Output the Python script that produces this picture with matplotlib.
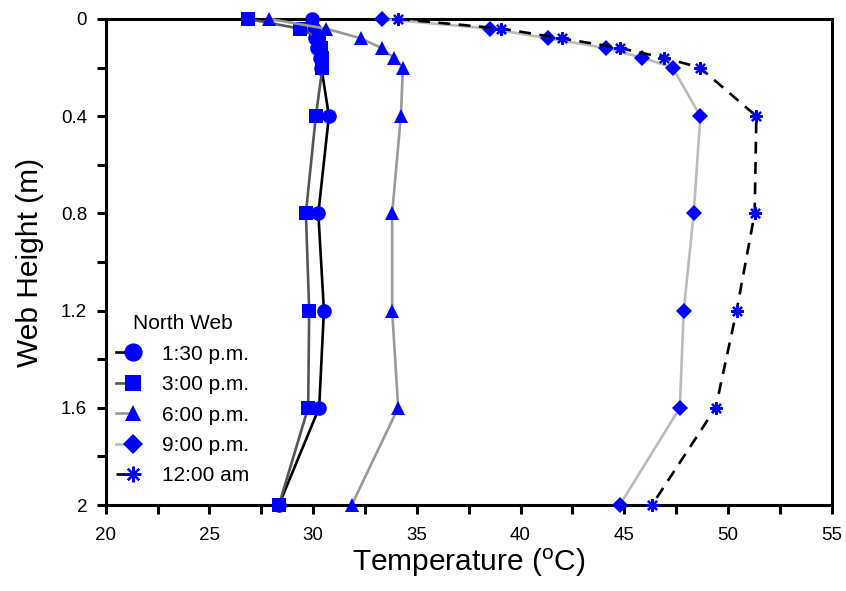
import matplotlib
matplotlib.use("Agg")
import matplotlib.pyplot as plt
from matplotlib.legend_handler import HandlerLine2D

plt.rcParams['font.family'] = ['Liberation Sans', 'DejaVu Sans']
plt.rcParams['mathtext.fontset'] = 'custom'
plt.rcParams['mathtext.rm'] = 'Liberation Sans'

# Measurement heights along the web (m)
heights = [0.0, 0.04, 0.08, 0.12, 0.16, 0.2, 0.4, 0.8, 1.2, 1.6, 2.0]

# North web temperature profiles (deg C)
t_0130pm = [29.93, 30.05, 30.1, 30.2, 30.35, 30.4, 30.76, 30.25, 30.52, 30.29, 28.35]
t_0300pm = [26.84, 29.36, 30.3, 30.4, 30.45, 30.45, 30.13, 29.65, 29.81, 29.76, 28.35]
t_0600pm = [27.87, 30.62, 32.30, 33.30, 33.89, 34.33, 34.23, 33.81, 33.81, 34.10, 31.86]
t_0900pm = [33.30, 38.52, 41.33, 44.10, 45.88, 47.33, 48.67, 48.35, 47.87, 47.68, 44.79]
t_1200am = [34.09, 39.08, 41.98, 44.79, 46.92, 48.64, 51.37, 51.29, 50.42, 49.41, 46.34]

series_labels = ['1:30 p.m.', '3:00 p.m.', '6:00 p.m.', '9:00 p.m.', '12:00 am']

x_ticks = [20, 25, 30, 35, 40, 45, 50, 55]
y_ticks = [0, 0.4, 0.8, 1.2, 1.6, 2]


class MarkerRightHandler(HandlerLine2D):
    """Legend handle: a short line stub ending in the marker."""
    def create_artists(self, legend, orig_handle, xdescent, ydescent,
                       width, height, fontsize, trans):
        artists = super().create_artists(legend, orig_handle, xdescent, ydescent,
                                         width, height, fontsize, trans)
        x0 = -xdescent
        xm = -xdescent + 0.72 * width
        y = (height - ydescent) / 2
        for art in artists:
            art.set_data([x0, xm], [y, y])
            art.set_markevery([1])
        return artists


fig = plt.figure(figsize=(8.46, 5.91), dpi=100)
ax = fig.add_axes([0.125, 0.1455, 0.858, 0.8225])

blue = '#0000FF'
lw = 1.9
styles = [
    dict(color='black', marker='o', ms=10.5, ls='-'),
    dict(color='#555555', marker='s', ms=9.5, ls='-'),
    dict(color='#999999', marker='^', ms=9.5, ls='-'),
    dict(color='#BBBBBB', marker='D', ms=8, ls='-'),
    dict(color='black', marker=(8, 2, 0), ms=9, ls=(0, (4.5, 3.2))),
]
data = [t_0130pm, t_0300pm, t_0600pm, t_0900pm, t_1200am]

handles = []
for temps, st, lab in zip(data, styles, series_labels):
    star = not isinstance(st['marker'], str)
    line, = ax.plot(temps, heights, color=st['color'], ls=st['ls'], lw=lw,
                    marker=st['marker'], ms=st['ms'],
                    markerfacecolor=blue,
                    markeredgecolor=blue,
                    markeredgewidth=1.6 if star else 0,
                    label=lab, clip_on=False, zorder=3)
    handles.append(line)

ax.set_xlim(20, 55)
ax.set_ylim(2, 0)
xt = [20 + 2.5 * i for i in range(15)]
ax.set_xticks(xt)
ax.set_xticklabels(['%g' % v if any(abs(v - t) < 1e-9 for t in x_ticks) else '' for v in xt])
yt = [0.2 * i for i in range(11)]
ax.set_yticks(yt)
ax.set_yticklabels([('%g' % round(v, 1)) if any(abs(v - t) < 1e-9 for t in y_ticks) else '' for v in yt])

for s in ax.spines.values():
    s.set_linewidth(2.2)
ax.tick_params(axis='both', direction='out', length=6.5, width=2.2, labelsize=13.5, pad=7)
ax.tick_params(axis='x', pad=9)

ax.set_xlabel(r'Temperature ($\mathregular{^o}$C)', fontsize=21.5, labelpad=2)
ax.set_ylabel('Web Height (m)', fontsize=21.5, labelpad=12)

leg = ax.legend(handles=handles, loc='lower left', frameon=False,
                title='North Web', title_fontsize=15, fontsize=15,
                handlelength=1.1, handletextpad=1.1, labelspacing=0.55,
                markerscale=1.25, borderaxespad=0, bbox_to_anchor=(0.003, 0.023),
                handler_map={h: MarkerRightHandler(numpoints=1) for h in handles})

fig.savefig('out.png', dpi=100)
